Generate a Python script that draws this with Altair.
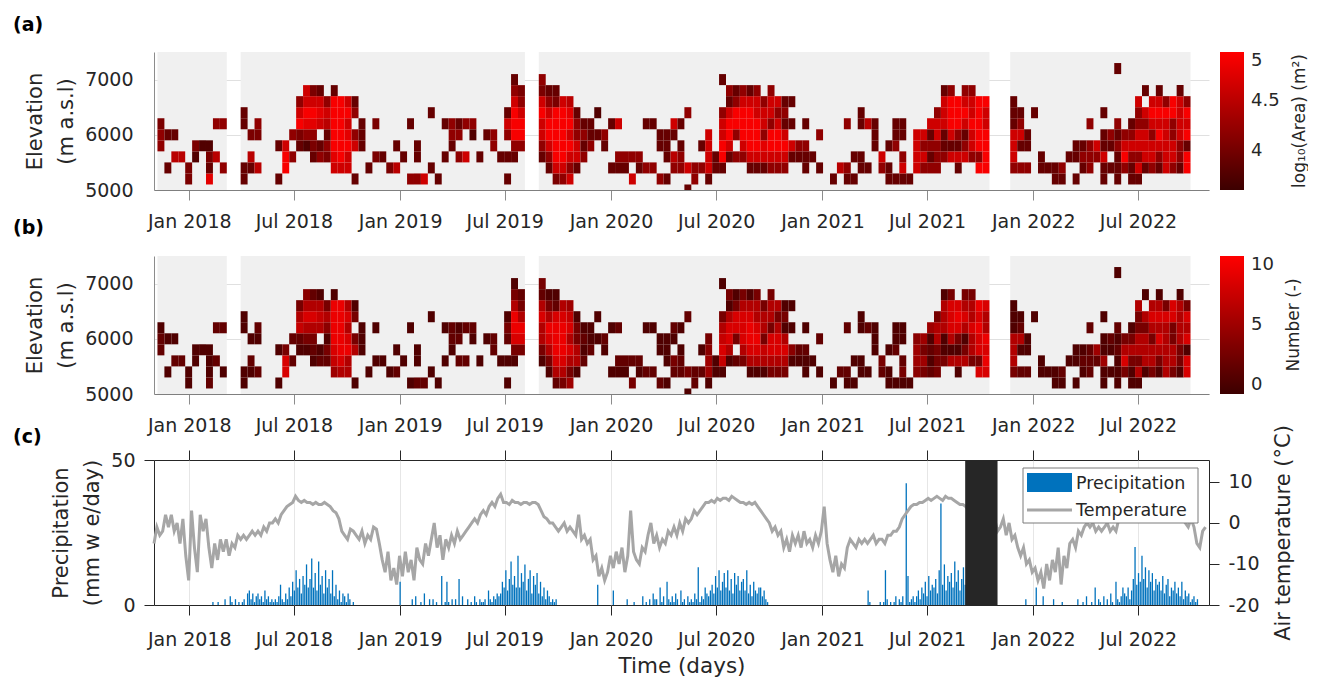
import altair as alt
import pandas as pd

FONT = "DejaVu Sans"
INK = "#262626"
DARK_RED = "#3c0000"
BRIGHT_RED = "#ff0000"
PANEL_W = 1055

# ---------------------------------------------------------------------------
# Elevation-band maps on a 12-day acquisition grid
# each string is one 12-day window, characters run from the lowest band
# (5000 m) to the highest (7200 m); "." = no detection
# ---------------------------------------------------------------------------
grid_start = "2017-11-07"
grid_step_days = 12
band_centres = [5000, 5200, 5400, 5600, 5800, 6000, 6200, 6400, 6600, 6800, 7000, 7200]
band_half = 100

# image-coverage periods (light grey background)
seg_start = ["2017-11-07", "2018-03-31", "2019-08-29", "2021-11-22"]
seg_end = ["2018-03-07", "2019-08-05", "2021-10-17", "2022-09-30"]

area_cols = [
    "....443.....", "..2..2......", "...6.2......", "...6........", ".33.........",
    "...13.......", "....1.......", ".8231.......", "...6..4.....", "..4...4.....",
    "............", "............", ".22...22....", "..26.3......", "..6..34.....",
    "............", "............", ".2..2.......", "..997.......", "...4.4......",
    "....23974...", "....148977..", "...2348973..", "...42.7872..", "...342674...",
    "..78999992..", "..7999999...", "..7798797...", ".2..74.42...", "....222.....",
    "..2.........", "...3..3.....", "...2........", "..3.........", "..6.2.......",
    "...2........", ".4....2.....", ".4.22.......", ".7..........", "..2....2....",
    ".2..........", "...2..2.....", "....244.....", "...4.42.....", "...7..4.....",
    ".....14.....", "...2........", ".....2......", "....44......", "...2........",
    ".2.2.472....", "...24999742.", "....499743..", "............", "............",
    "...24779734.", "..24799742..", ".379999932..", ".47999997...", ".74797986...",
    "..277442....", "...4242.....", "....422.....", ".....2.1....", "....24......",
    "..2...2.....", "..24..7.....", "..24........", ".7.4........", "..24........",
    "..4...2.....", "..4...2.....", ".4..22......", ".2.222......", "..46.27.....",
    "..442.2.....", "2.7....4....", ".44.........", "..4.2.......", ".27777......",
    "..22........", "..299774..2.", "...2799724..", "...4.49942..", "...4799974..",
    "..27999972..", "..27999774..", "..2784774...", "..47994774..", "..4799747...",
    "..4797242...", "...27.2.2...", "...24.......", "..224.2.....", "...2........",
    "..2..4......", "............", ".2..........", "..6.........", ".24...4.....",
    ".2.2........", "..22..22....", "..2...6.....", "....222.....", "..47........",
    ".22.2.......", ".2..422.....", ".274.22.....", ".2..........", "..7777......",
    "..4747......", "..42427.....", "..444774....", "...4227772..", "...7279994..",
    "..2724999...", "...7427974..", "...4779774..", "..9499999...", "..9999779...",
    "............", "............", "............", "..4777222...", "..4.2742....",
    "..4.22......", ".......2....", "..22........", "..2.........", ".22.........",
    ".24.........", "...2........", ".2.22.......", "..242.......", "..444.4.....",
    "...47.......", ".22722.2....", "..2.24......", ".222424....2", "..4974......",
    ".224742.....", ".27477447...", "..277747.2..", "..4774797...", "..24797972..",
    "..7777794...", "..4774499...", "..24477772..", "..9929794...",
]

count_cols = [
    "....221.....", "..1..1......", "...2.1......", "...2........", ".11.........",
    "...11.......", "....1.......", ".2111.......", "...2..2.....", "..1...2.....",
    "............", "............", ".11...11....", "..12.1......", "..2..12.....",
    "............", "............", ".1..1.......", "..883.......", "...2.2......",
    "....12763...", "....136864..", "...1236862..", "...21.6761..", "...231463...",
    "..57899991..", "..6899999...", "..6698686...", ".1..63.31...", "....111.....",
    "..1.........", "...1..1.....", "...1........", "..1.........", "..2.1.......",
    "...1........", ".1....1.....", ".2.11.......", ".2..........", "..1....1....",
    ".1..........", "...1..1.....", "....122.....", "...2.21.....", "...2..2.....",
    ".....12.....", "...1........", ".....1......", "....22......", "...1........",
    ".1.1.231....", "...13899631.", "....389632..", "............", "............",
    "...13668623.", "..13689631..", ".268999821..", ".36899986...", ".53686875...",
    "..166331....", "...2121.....", "....211.....", ".....1.1....", "....12......",
    "..1...1.....", "..12..2.....", "..12........", ".3.2........", "..12........",
    "..2...1.....", "..2...1.....", ".2..11......", ".1.111......", "..23.12.....",
    "..221.1.....", "1.3....2....", ".22.........", "..2.1.......", ".15543......",
    "..11........", "..178763..1.", "...1688613..", "...2.38831..", "...3688863..",
    "..16899861..", "..16898663..", "..1673663...", "..36883663..", "..3688636...",
    "..3686131...", "...14.1.1...", "...12.......", "..112.1.....", "...1........",
    "..1..2......", "............", ".1..........", "..2.........", ".12...2.....",
    ".1.1........", "..11..11....", "..1...2.....", "....111.....", "..23........",
    ".11.1.......", ".1..211.....", ".132.11.....", ".1..........", "..4554......",
    "..3535......", "..21215.....", "..333663....", "...3116661..", "...6168883..",
    "..1613898...", "...6316863..", "...3668663..", "..8388989...", "..8989668...",
    "............", "............", "............", "..3666111...", "..2.1621....",
    "..2.11......", ".......1....", "..11........", "..1.........", ".11.........",
    ".12.........", "...1........", ".1.11.......", "..121.......", "..222.2.....",
    "...25.......", ".11511.1....", "..1.12......", ".111212....1", "..3863......",
    ".113631.....", ".16366336...", "..166636.1..", "..3663686...", "..13686861..",
    "..6666683...", "..3663388...", "..13366661..", "..8818683...",
]

# log10 of ice-free area (m^2) and number of features for each map level
area_value = {"1": 3.75, "2": 3.9, "3": 4.05, "4": 4.2, "5": 4.35,
              "6": 4.5, "7": 4.65, "8": 4.8, "9": 4.95}
count_value = {"1": 1, "2": 2, "3": 3, "4": 4, "5": 5,
               "6": 6, "7": 7, "8": 8, "9": 9}

# ---------------------------------------------------------------------------
# Station series: 3-day precipitation (mm w.e./day) and 5-day air temperature
# ---------------------------------------------------------------------------
precip_start = "2017-11-01"
precip_step_days = 3
precip_mm = [
    0, 0, 0, 0, 0, 0, 0, 0, 0, 0,
    0, 0, 0, 0, 0, 0, 0, 0, 0, 0,
    0, 0, 0, 0, 0, 0, 0, 0, 0, 0,
    0, 0, 0, 0, 1, 0, 0, 1, 0, 0,
    0, 2, 0, 0, 3, 1, 0, 2, 0, 1,
    0, 1, 2, 0, 4, 5, 2, 4, 1, 3,
    4, 2, 3, 1, 5, 2, 3, 1, 2, 1,
    2, 1, 3, 7, 2, 1, 4, 2, 6, 3,
    8, 5, 12, 6, 9, 4, 10, 7, 14, 6,
    9, 16, 6, 11, 5, 15, 7, 10, 4, 12,
    6, 9, 4, 12, 3, 7, 2, 5, 1, 4,
    3, 1, 4, 2, 0, 1, 0, 0, 0, 0,
    0, 0, 0, 0, 0, 0, 0, 0, 0, 0,
    0, 0, 0, 0, 0, 0, 0, 0, 0, 0,
    0, 0, 8, 0, 0, 0, 0, 0, 0, 2,
    0, 3, 0, 0, 1, 0, 4, 0, 0, 2,
    0, 2, 0, 1, 0, 0, 10, 0, 1, 8,
    1, 0, 2, 0, 2, 0, 9, 0, 3, 0,
    0, 2, 0, 1, 0, 3, 1, 0, 2, 1,
    1, 2, 0, 5, 2, 1, 3, 2, 4, 3,
    4, 8, 6, 12, 5, 9, 15, 7, 10, 6,
    17, 6, 11, 8, 14, 5, 9, 12, 4, 10,
    7, 11, 4, 8, 3, 6, 2, 5, 3, 1,
    2, 1, 2, 0, 0, 0, 0, 0, 0, 0,
    0, 0, 0, 0, 0, 0, 0, 0, 0, 0,
    0, 0, 0, 0, 0, 0, 7, 0, 0, 0,
    0, 0, 0, 0, 0, 5, 0, 0, 0, 0,
    0, 0, 0, 2, 0, 0, 0, 1, 0, 0,
    0, 0, 3, 0, 1, 0, 2, 0, 4, 2,
    2, 0, 6, 1, 3, 0, 8, 2, 1, 3,
    1, 4, 2, 0, 5, 1, 2, 0, 3, 1,
    2, 1, 4, 2, 13, 1, 3, 2, 6, 4,
    3, 5, 7, 4, 10, 6, 12, 5, 8, 11,
    6, 12, 5, 9, 4, 11, 7, 10, 5, 8,
    9, 5, 12, 4, 7, 3, 8, 5, 4, 6,
    6, 3, 5, 2, 1, 0, 0, 0, 0, 0,
    0, 0, 0, 0, 0, 0, 0, 0, 0, 0,
    0, 0, 0, 0, 0, 0, 0, 0, 0, 0,
    0, 0, 0, 0, 0, 0, 0, 0, 0, 0,
    0, 0, 0, 0, 0, 0, 0, 0, 0, 0,
    0, 0, 0, 0, 0, 0, 0, 0, 0, 0,
    0, 0, 5, 1, 0, 0, 0, 0, 0, 1,
    0, 1, 12, 2, 0, 1, 0, 1, 3, 0,
    2, 1, 3, 0, 42, 10, 1, 2, 3, 1,
    3, 5, 2, 6, 4, 8, 3, 10, 5, 7,
    6, 9, 4, 12, 35, 7, 14, 5, 10, 8,
    11, 6, 15, 8, 12, 5, 9, 13, 7, 10,
    0, 0, 0, 0, 0, 0, 0, 0, 0, 0,
    0, 0, 0, 0, 0, 0, 0, 0, 0, 0,
    0, 0, 0, 0, 0, 0, 0, 0, 0, 0,
    0, 0, 0, 2, 0, 0, 0, 0, 0, 6,
    0, 0, 0, 3, 0, 0, 0, 0, 0, 2,
    0, 0, 0, 0, 1, 0, 0, 0, 0, 0,
    0, 0, 0, 2, 0, 0, 1, 0, 3, 0,
    0, 1, 0, 6, 0, 2, 1, 0, 3, 0,
    2, 0, 4, 1, 0, 8, 2, 1, 3, 6,
    4, 3, 6, 2, 5, 9, 20, 7, 11, 8,
    17, 9, 13, 6, 12, 8, 11, 5, 9, 7,
    8, 5, 10, 4, 7, 9, 3, 6, 5, 8,
    4, 6, 3, 8, 2, 5, 3, 4, 1, 2,
    3, 1, 2, 0, 0, 0, 0, 0, 0,
]

temp_start = "2017-11-01"
temp_step_days = 5
temp_c = [
    -5, -1, -3, -2, 2, -1,
    2, -2, 0, -5, 1, -8,
    -14, 3, -6, -12, 2, -2,
    1, -6, -11, -5, -9, -4,
    -7, -4, -8, -5, -6, -3,
    -4, -3, -4, -3, -2, -3,
    -2, -3, -1, -2, 0, 0,
    1, 0, 2, 3, 4, 4.5,
    5, 6.5, 5.5, 5, 5.5, 5,
    5, 4.5, 5, 4.5, 4.5, 5,
    4.5, 4, 3, 2.5, 1, -2,
    -3, -4, -1.5, -2, -3, -4,
    -2, -5, -3, -4, -1, -1.5,
    -5, -9, -12, -7, -14, -11,
    -15, -8, -13, -7, -12, -9,
    -14, -6, -9, -10, -5, -8,
    -4, 0, -6, -3, -9, -4,
    -6, -3, -5, -2, -4, -3,
    -2, -1, 0, 1, 0, 2,
    3, 2, 4, 5, 4, 6,
    7, 5, 5, 4.5, 5.5, 5,
    5, 4.5, 5, 5, 4.5, 5,
    5, 4.5, 3, 1.5, 1, 0,
    0, -1, -2, -1, 0, -2,
    -1, -2, -3, 2, -4, -3,
    -5, -4, -9, -8, -13, -11,
    -14, -12, -8, -11, -7, -10,
    -6, -12, -8, 3, -7, -9,
    -10, -6, -7, -3, 0, -5,
    -3, -6, -4, -5, -2, -3,
    -1, -3, 0, -2, 1, 0,
    1, 3, 2, 3, 4, 5,
    5, 5.5, 5, 6, 5.5, 6,
    6, 5.5, 6.5, 6, 5.5, 5,
    5, 4.5, 5, 4.5, 5, 4,
    3, 2, 1, 0, -2, -1,
    -3, -2, -6, -4, -7, -3,
    -5, -3, -6, -2, -5, -4,
    -6, -3, -5, -2, 4, -5,
    -9, -12, -8, -13, -10, -11,
    -6, -4, -5, -6, -4, -5,
    -4, -5, -4, -3, -5, -4,
    -4, -5, -3, -3, -2, -2,
    -1, 1, 2, 3, 4, 4.5,
    4.5, 5, 5, 5.5, 6, 5.5,
    6, 6.5, 6, 5.5, 6.5, 6,
    6, 5.5, 5, 4.5, 4.5, 4,
    3, 2, 2, 1, 1, 0,
    0, -1, -3, 1, -2, -1,
    1, -3, 0, -4, -3, -6,
    -8, -6, -10, -9, -12, -11,
    -14, -12, -16, -10, -14, -9,
    -12, -6, -15, -8, -11, -5,
    -4, -6, -2, -3, -1, 0,
    -1, 0, -2, -1, -2, -1,
    0, -2, -1, -2, 1, 2,
    3, 4, 4, 5, 5, 5.5,
    5, 5.5, 6, 5.5, 6, 5,
    5, 5, 4.5, 4, 3, 2.5,
    2, 1, 1, 0, -1, 1,
    -1, -5, -6, -2, -1,
]

# station outage
gap_start = "2021-09-05"
gap_end = "2021-10-31"

# ---------------------------------------------------------------------------
def iso(ts):
    return ts.strftime("%Y-%m-%dT00:00:00Z")


def cells_frame(cols, lookup):
    t0 = pd.Timestamp(grid_start)
    recs = []
    for i, col in enumerate(cols):
        a = t0 + pd.Timedelta(days=grid_step_days * i)
        b = a + pd.Timedelta(days=grid_step_days)
        for r, ch in enumerate(col[:len(band_centres)]):
            if ch in lookup:
                c = band_centres[r]
                recs.append({"t0": iso(a), "t1": iso(b), "lo": c - band_half,
                             "hi": c + band_half, "v": lookup[ch]})
    return pd.DataFrame(recs)


def series_frame(start, step, values, name):
    t0 = pd.Timestamp(start)
    return pd.DataFrame({
        "d": [iso(t0 + pd.Timedelta(days=step * k)) for k in range(len(values))],
        name: values,
    })


area_df = cells_frame(area_cols, area_value)
count_df = cells_frame(count_cols, count_value)
seg_df = pd.DataFrame({"s": [iso(pd.Timestamp(s)) for s in seg_start],
                       "e": [iso(pd.Timestamp(e)) for e in seg_end]})
precip_df = series_frame(precip_start, precip_step_days, precip_mm, "p")
precip_df = precip_df[precip_df["p"] > 0]
temp_df = series_frame(temp_start, temp_step_days, temp_c, "c")
gap_df = pd.DataFrame({"s": [iso(pd.Timestamp(gap_start))], "e": [iso(pd.Timestamp(gap_end))]})


def one(text):
    return pd.DataFrame({"t": [text]})


# ---------------------------------------------------------------------------
x_scale = alt.Scale(type="utc", domain=[
    alt.DateTime(year=2017, month=11, date=1, utc=True),
    alt.DateTime(year=2022, month=11, date=1, utc=True)])
tick_dates = [alt.DateTime(year=y, month=m, date=1, utc=True)
              for y in (2018, 2019, 2020, 2021, 2022) for m in (1, 7)]

x_axis_heat = alt.Axis(values=tick_dates, format="%b %Y", title=None, grid=False,
                       domain=True, domainColor="#7f7f7f", ticks=True, tickSize=10,
                       tickColor="#8c8c8c", labelPadding=12, labelFontSize=19)
y_axis_heat = alt.Axis(values=[5000, 6000, 7000], format="d",
                       title=["Elevation", "(m a.s.l)"], grid=True, gridColor="#e0e0e0",
                       ticks=False, domain=True, domainColor="#8c8c8c", labelPadding=21,
                       titlePadding=8, titleFontSize=21, titleLineHeight=31,
                       labelFontSize=19)


def heat_panel(cells, cdomain, cticks, cformat, ctitle, tag, tag_y, title_x, h):
    bg = alt.Chart(seg_df).mark_rect(color="#f0f0f0").encode(
        x=alt.X("s:T", scale=x_scale, axis=x_axis_heat),
        x2="e:T",
        y=alt.value(0),
        y2=alt.value(h),
    )
    cell = alt.Chart(cells).mark_rect(clip=True, strokeWidth=0).encode(
        x=alt.X("t0:T", scale=x_scale, axis=x_axis_heat),
        x2="t1:T",
        y=alt.Y("lo:Q", scale=alt.Scale(domain=[5000, 7500], nice=False, zero=False),
                axis=y_axis_heat),
        y2="hi:Q",
        color=alt.Color("v:Q",
                        scale=alt.Scale(domain=cdomain, range=[DARK_RED, BRIGHT_RED],
                                        interpolate="rgb"),
                        legend=alt.Legend(title=None, values=cticks, format=cformat,
                                          orient="right", offset=11, padding=0,
                                          gradientLength=h, gradientThickness=24,
                                          gradientStrokeWidth=0, labelFontSize=18,
                                          labelOffset=7)),
    )
    tag_mark = alt.Chart(one(tag)).mark_text(
        align="left", baseline="middle", fontSize=19, fontWeight="bold", color="black"
    ).encode(x=alt.value(-141), y=alt.value(tag_y), text="t:N")
    title_mark = alt.Chart(one(ctitle)).mark_text(
        angle=270, align="center", baseline="middle", fontSize=17, color=INK
    ).encode(x=alt.value(title_x), y=alt.value(h / 2), text="t:N")
    return alt.layer(bg, cell, tag_mark, title_mark).properties(width=PANEL_W, height=h)


panel_a = heat_panel(area_df, [3.6, 5.0], [4, 4.5, 5], "~g",
                     "log\u2081\u2080(Area) (m\u00b2)", "(a)", -27, 1146, 138)
panel_b = heat_panel(count_df, [0, 10], [0, 5, 10], "d",
                     "Number (-)", "(b)", -28, 1140, 138)

# ---------------------------------------------------------------------------
H_C = 145
x_bottom = alt.Axis(values=tick_dates, format="%b %Y", title="Time (days)", grid=True,
                    gridColor="#e6e6e6", domain=False, tickSize=10, tickColor=INK,
                    labelPadding=15, titlePadding=6, titleFontSize=21.5, labelFontSize=19)
x_top = alt.Axis(orient="top", values=tick_dates, labels=False, title=None, grid=False,
                 domain=False, tickSize=10, tickColor=INK)

bars = alt.Chart(precip_df).mark_rule(color="#0072bd", strokeWidth=1.3).encode(
    x=alt.X("d:T", scale=x_scale, axis=x_bottom),
    y=alt.Y("p:Q", scale=alt.Scale(domain=[0, 50], nice=False),
            axis=alt.Axis(orient="left", values=[0, 50], title=["Precipitation", "(mm w e/day)"],
                          grid=False, domain=False, tickSize=10, tickColor=INK,
                          labelPadding=9, titlePadding=8, titleFontSize=21,
                          titleLineHeight=31, labelFontSize=19)),
    y2=alt.datum(0),
)
temp_line = alt.Chart(temp_df).mark_line(color="#a6a6a6", strokeWidth=3).encode(
    x=alt.X("d:T", scale=x_scale, axis=x_top),
    y=alt.Y("c:Q", scale=alt.Scale(domain=[-20, 15.35], nice=False, zero=False),
            axis=alt.Axis(orient="right", values=[-20, -10, 0, 10],
                          labelExpr="toString(datum.value)",
                          title="Air temperature (\u00b0C)", titleAngle=270,
                          grid=False, domain=False, tickSize=10, tickColor=INK,
                          labelPadding=9, titlePadding=34, titleFontSize=21,
                          labelFontSize=19)),
)
gap = alt.Chart(gap_df).mark_rect(color=INK).encode(
    x=alt.X("s:T", scale=x_scale, axis=None),
    x2="e:T",
    y=alt.value(0),
    y2=alt.value(H_C),
)
key_box = alt.Chart(one("box")).mark_rect(fill="white", stroke="#7a7a7a", strokeWidth=1).encode(
    x=alt.value(869), x2=alt.value(1044), y=alt.value(8), y2=alt.value(63))
key_bar = alt.Chart(one("bar")).mark_rect(color="#0072bd").encode(
    x=alt.value(873), x2=alt.value(918), y=alt.value(13), y2=alt.value(32))
key_line = alt.Chart(one("line")).mark_rule(color="#a6a6a6", strokeWidth=3).encode(
    x=alt.value(873), x2=alt.value(918), y=alt.value(50))
key_p = alt.Chart(one("Precipitation")).mark_text(
    align="left", baseline="middle", fontSize=17.5, color=INK
).encode(x=alt.value(922), y=alt.value(24), text="t:N")
key_t = alt.Chart(one("Temperature")).mark_text(
    align="left", baseline="middle", fontSize=17.5, color=INK
).encode(x=alt.value(922), y=alt.value(51), text="t:N")
tag_c = alt.Chart(one("(c)")).mark_text(
    align="left", baseline="middle", fontSize=19, fontWeight="bold", color="black"
).encode(x=alt.value(-141), y=alt.value(-23), text="t:N")

panel_c = alt.layer(
    bars, temp_line, gap, key_box, key_bar, key_line, key_p, key_t, tag_c
).resolve_scale(y="independent").resolve_axis(x="independent", y="independent").properties(
    width=PANEL_W, height=H_C, view=alt.ViewBackground(stroke=INK, strokeWidth=1)
)

chart = alt.vconcat(panel_a, panel_b, panel_c, spacing=66, bounds="flush").resolve_scale(
    color="independent", y="independent"
).resolve_legend(color="independent").properties(
    padding={"left": 12, "top": 16, "right": 0, "bottom": 0}
).configure(font=FONT).configure_axis(
    labelFont=FONT, titleFont=FONT, labelColor=INK, titleColor=INK,
    titleFontWeight="normal"
).configure_legend(
    labelFont=FONT, labelColor=INK
).configure_text(font=FONT).configure_view(stroke=None)

chart.save("out.html", embed_options={"renderer": "svg", "actions": False})
